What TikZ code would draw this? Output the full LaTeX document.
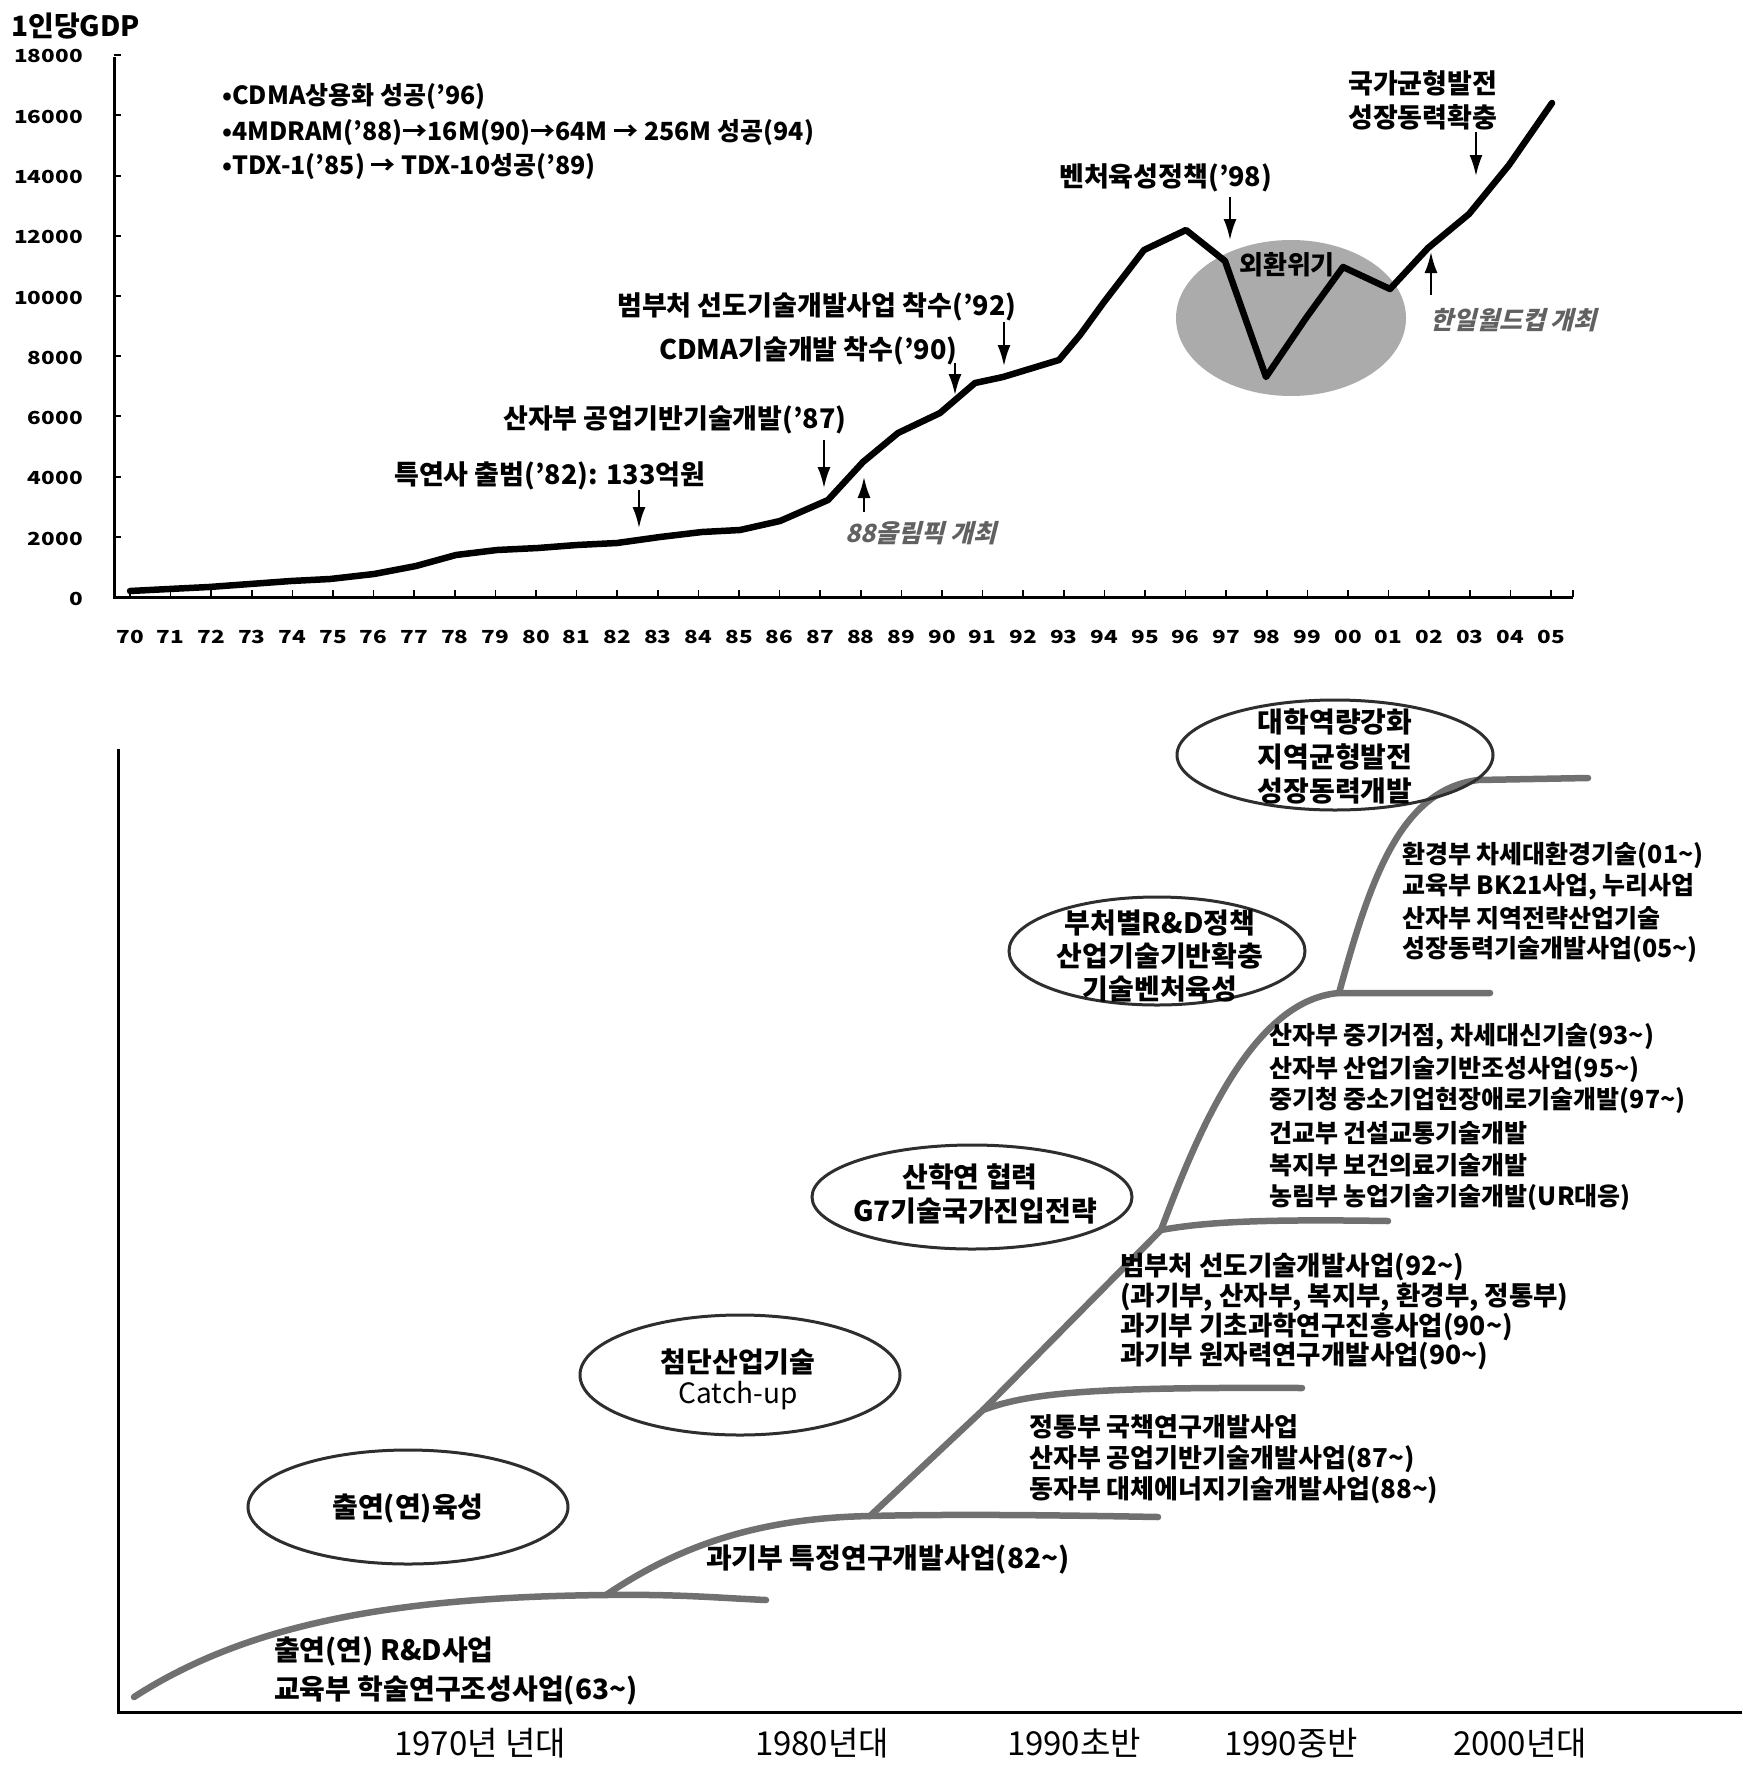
\documentclass[tikz,border=0pt]{standalone}
\usepackage{fontspec}
\setmainfont{Noto Sans CJK KR}
\newfontfamily\tickfont{Noto Sans CJK KR}[FakeStretch=1.25]
\newfontfamily\slfont{Noto Sans CJK KR}[FakeSlant=0.25]
\usetikzlibrary{arrows.meta,shapes.geometric}
\newcommand\setfs[1]{\fontsize{#1pt}{#1pt}\selectfont}
\begin{document}
\begin{tikzpicture}[x=1pt,y=-1pt,
  txt/.style={anchor=west,inner sep=0pt},
  toplbl/.style={txt,font=\bfseries\setfs{27}},
  bullet/.style={txt,font=\bfseries\setfs{25}},
  listl/.style={txt,font=\bfseries\setfs{#1}},
  bubtxt/.style={anchor=center,inner sep=0pt,font=\bfseries\setfs{28}},
  note/.style={txt,font=\slfont\bfseries\setfs{25},text=black!62},
  ylab/.style={anchor=east,inner sep=0pt,font=\tickfont\bfseries\setfs{18}},
  xlab/.style={anchor=center,inner sep=0pt,font=\tickfont\bfseries\setfs{18}},
  era/.style={anchor=center,inner sep=0pt,font=\setfs{33}},
  pointer/.style={-{Latex[length=21pt,width=13pt]},line width=2.2pt},
  axis/.style={line width=3pt},
  gdp/.style={line width=6.5pt,line join=round,line cap=round},
  scurve/.style={draw=black!56,line width=6.5pt,line cap=round},
  bub/.style={draw=black!82,line width=3pt,ellipse,inner sep=0pt},
]
\useasboundingbox (0,0) rectangle (1742,1766);

% ================= TOP CHART =================
\node[txt,font=\bfseries\setfs{28}] (gdpt) at (11,26) {1인당GDP};
\draw[axis] (114,57) coordinate (ytop) -- (114,597) coordinate (org) -- (1573,597) coordinate (xend);
\draw[line width=2pt] (xend) -- ++(0,-7);
\foreach \k/\v in {0/0,1/2000,2/4000,3/6000,4/8000,5/10000,6/12000,7/14000,8/16000,9/18000}{
  \draw[line width=2pt] (114,{597-60.2*\k}) -- (121,{597-60.2*\k});
  \node[ylab] (yl\k) at (83,{599-60.3*\k}) {\v};
}
\foreach \i/\l in {0/70,1/71,2/72,3/73,4/74,5/75,6/76,7/77,8/78,9/79,10/80,11/81,12/82,13/83,14/84,15/85,16/86,17/87,18/88,19/89,20/90,21/91,22/92,23/93,24/94,25/95,26/96,27/97,28/98,29/99,30/00,31/01,32/02,33/03,34/04,35/05}{
  \draw[line width=1.5pt] ({130+40.6*\i},597) -- ({130+40.6*\i},590);
  \node[xlab] (xl\i) at ({130+40.6*\i},637) {\l};
}

% crisis ellipse
\fill[black!33] (1291,318) ellipse [x radius=115, y radius=78];
\node[anchor=center,inner sep=0pt,font=\bfseries\setfs{26}] (crisis) at (1287,265) {외환위기};

% GDP curve
\draw[gdp] (130,591) -- (169,589) -- (209,587) -- (250,584) -- (291,581) -- (330,579) -- (374,574) -- (416,566) -- (456,555) -- (497,550) -- (538,548) -- (577,545) -- (617,543) -- (660,537) -- (702,532) -- (740,530) -- (780,521) -- (828,500) -- (863,462) -- (898,433) -- (940,413) -- (975,383) -- (1003,377) -- (1059,360) -- (1080,335) -- (1104,302) -- (1144,250) -- (1186,230) -- (1225,261) -- (1266,377) -- (1306,318) -- (1343,267) -- (1390,289) -- (1428,248) -- (1469,214) -- (1509,165) -- (1552,103);

% bullets
\node[bullet] (b1) at (222,97) {•CDMA상용화 성공('96)};
\node[bullet] (b2) at (222,133) {•4MDRAM('88)→16M(90)→64M → 256M 성공(94)};
\node[bullet] (b3) at (222,167) {•TDX-1('85) → TDX-10성공('89)};

% labels and pointers
\node[toplbl] (t82) at (394,476) {특연사 출범('82): 133억원};
\node[toplbl] (t87) at (503,420) {산자부 공업기반기술개발('87)};
\node[toplbl] (t90) at (659,351) {CDMA기술개발 착수('90)};
\node[toplbl] (t92) at (617,307) {범부처 선도기술개발사업 착수('92)};
\node[toplbl] (t98) at (1059,178) {벤처육성정책('98)};
\node[toplbl] (t05a) at (1348,83) {국가균형발전};
\node[toplbl] (t05b) at (1348,117) {성장동력확충};
\node[note] (n88) at (845,533) {88올림픽 개최};
\node[note] (n02) at (1430,320) {한일월드컵 개최};

\coordinate (a82s) at (639,490); \coordinate (a82e) at (639,528);
\coordinate (a87s) at (824,440); \coordinate (a87e) at (824,488);
\coordinate (a88s) at (864,512); \coordinate (a88e) at (864,477);
\coordinate (a90s) at (955,363); \coordinate (a90e) at (955,395);
\coordinate (a92s) at (1004,322); \coordinate (a92e) at (1004,366);
\coordinate (a98s) at (1230,197); \coordinate (a98e) at (1230,240);
\coordinate (a05s) at (1476,132); \coordinate (a05e) at (1476,176);
\coordinate (a02s) at (1431,295); \coordinate (a02e) at (1431,252);
\foreach \a in {a82,a87,a88,a90,a92,a98,a05,a02}{\draw[pointer] (\a s) -- (\a e);}

% ================= BOTTOM CHART =================
\draw[axis] (118,749) -- (118,1712) coordinate (borg) -- (1742,1712);

\coordinate (j0) at (606,1595);
\coordinate (j1) at (870,1516);
\coordinate (j2) at (983,1410);
\coordinate (j3) at (1161,1230);
\coordinate (j4) at (1339,993);
\draw[scurve] (134,1697) .. controls (250,1622) and (400,1597) .. (j0) .. controls (680,1594) and (720,1598) .. (766,1600);
\draw[scurve] (j0) .. controls (680,1545) and (760,1518) .. (j1) .. controls (950,1514) and (1050,1515) .. (1158,1517);
\draw[scurve] (j1) -- (j2) .. controls (1030,1392) and (1100,1387) .. (1302,1388);
\draw[scurve] (j2) -- (j3) .. controls (1205,1222) and (1260,1219) .. (1388,1221);
\draw[scurve] (j3) .. controls (1195,1140) and (1250,1000) .. (j4) -- (1490,993);
\draw[scurve] (j4) .. controls (1370,880) and (1400,790) .. (1478,780) -- (1588,778);

% bubbles
\node[bub,minimum width=316pt,minimum height=110pt] (e6) at (1335,755) {};
\node[bub,minimum width=296pt,minimum height=108pt] (e5) at (1157,951) {};
\node[bub,minimum width=320pt,minimum height=104pt] (e4) at (972,1197) {};
\node[bub,minimum width=320pt,minimum height=120pt] (e3) at (740,1375) {};
\node[bub,minimum width=320pt,minimum height=114pt] (e2) at (408,1507) {};

\node[bubtxt] (e6a) at (1335,722) {대학역량강화};
\node[bubtxt] (e6b) at (1335,757) {지역균형발전};
\node[bubtxt] (e6c) at (1335,791) {성장동력개발};
\node[bubtxt] (e5a) at (1160,923) {부처별R\&D정책};
\node[bubtxt] (e5b) at (1160,956) {산업기술기반확충};
\node[bubtxt] (e5c) at (1160,989) {기술벤처육성};
\node[bubtxt] (e4a) at (970,1177) {산학연 협력};
\node[bubtxt] (e4b) at (975,1211) {G7기술국가진입전략};
\node[bubtxt] (e3a) at (738,1362) {첨단산업기술};
\node[bubtxt,font=\setfs{28}] (e3b) at (738,1396) {Catch-up};
\node[bubtxt] (e2a) at (408,1509) {출연(연)육성};

% lists
\node[listl=28] (p1a) at (274,1652) {출연(연) R\&D사업};
\node[listl=28] (p1b) at (274,1690) {교육부 학술연구조성사업(63\textasciitilde)};
\node[listl=28] (p2a) at (706,1560) {과기부 특정연구개발사업(82\textasciitilde)};
\node[listl=26] (p3a) at (1029,1427) {정통부 국책연구개발사업};
\node[listl=26] (p3b) at (1029,1459) {산자부 공업기반기술개발사업(87\textasciitilde)};
\node[listl=26] (p3c) at (1029,1490) {동자부 대체에너지기술개발사업(88\textasciitilde)};
\node[listl=26.5] (p4a) at (1120,1267) {범부처 선도기술개발사업(92\textasciitilde)};
\node[listl=26.5] (p4b) at (1120,1297) {(과기부, 산자부, 복지부, 환경부, 정통부)};
\node[listl=26.5] (p4c) at (1120,1327) {과기부 기초과학연구진흥사업(90\textasciitilde)};
\node[listl=26.5] (p4d) at (1120,1356) {과기부 원자력연구개발사업(90\textasciitilde)};
\node[listl=25] (p5a) at (1269,1037) {산자부 중기거점, 차세대신기술(93\textasciitilde)};
\node[listl=25] (p5b) at (1269,1069) {산자부 산업기술기반조성사업(95\textasciitilde)};
\node[listl=25] (p5c) at (1269,1100) {중기청 중소기업현장애로기술개발(97\textasciitilde)};
\node[listl=25] (p5d) at (1269,1133) {건교부 건설교통기술개발};
\node[listl=25] (p5e) at (1269,1165) {복지부 보건의료기술개발};
\node[listl=25] (p5f) at (1269,1197) {농림부 농업기술기술개발(UR대응)};
\node[listl=25] (p6a) at (1402,855) {환경부 차세대환경기술(01\textasciitilde)};
\node[listl=25] (p6b) at (1402,887) {교육부 BK21사업, 누리사업};
\node[listl=25] (p6c) at (1402,918) {산자부 지역전략산업기술};
\node[listl=25] (p6d) at (1402,950) {성장동력기술개발사업(05\textasciitilde)};

% eras
\node[era] (r1) at (480,1743) {1970년 년대};
\node[era] (r2) at (822,1743) {1980년대};
\node[era] (r3) at (1074,1743) {1990초반};
\node[era] (r4) at (1291,1743) {1990중반};
\node[era] (r5) at (1520,1743) {2000년대};
\end{tikzpicture}
\end{document}
